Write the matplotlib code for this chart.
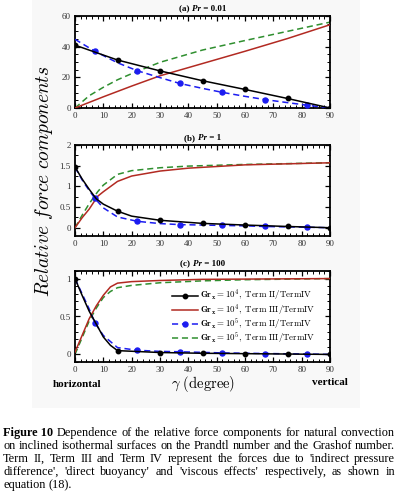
import matplotlib
matplotlib.use("Agg")
import matplotlib.pyplot as plt
from matplotlib.patches import Rectangle
from matplotlib.ticker import MultipleLocator

plt.rcParams['mathtext.fontset'] = 'cm'
plt.rcParams['font.family'] = ['Liberation Serif', 'DejaVu Serif']

# ---------------- data ----------------
xticks = [0, 10, 20, 30, 40, 50, 60, 70, 80, 90]
titles = [("(a) ", "Pr", " = 0.01"), ("(b) ", "Pr", " = 1"), ("(c) ", "Pr", " = 100")]
legend_labels = [r'$\mathbf{Gr_x = 10^4}\mathrm{,\ Term\ II/TermIV}$',
                 r'$\mathbf{Gr_x = 10^4}\mathrm{,\ Term\ III/TermIV}$',
                 r'$\mathbf{Gr_x = 10^5}\mathrm{,\ Term\ II/TermIV}$',
                 r'$\mathbf{Gr_x = 10^5}\mathrm{,\ Term\ III/TermIV}$']

# Panel (a) Pr = 0.01
a_x_t2_g4 = [0, 15, 30, 45, 60, 75, 90]
a_t2_g4 = [41.0, 31.3, 24.2, 17.8, 12.1, 6.2, 0.0]
a_x_t3_g4 = [0, 10, 20, 30, 45, 60, 75, 90]
a_t3_g4 = [0.0, 7.3, 14.3, 21.0, 29.0, 37.0, 45.3, 54.3]
a_x_t2_g5 = [0, 7, 15, 22, 30, 37, 45, 52, 60, 67, 75, 82, 90]
a_t2_g5 = [44.8, 37.0, 29.5, 24.3, 19.8, 16.0, 12.8, 10.2, 7.6, 5.5, 3.5, 1.8, 0.0]
a_x_t3_g5 = [0, 5, 10, 15, 20, 30, 45, 60, 75, 90]
a_t3_g5 = [0.0, 8.0, 13.5, 18.4, 22.4, 29.8, 37.8, 44.0, 50.0, 56.0]

# Panel (b) Pr = 1
b_x_t2_g4 = [0, 2.5, 5, 7.5, 10, 15, 20, 30, 45, 60, 75, 90]
b_t2_g4 = [1.47, 1.18, 0.93, 0.70, 0.57, 0.40, 0.28, 0.18, 0.105, 0.065, 0.03, 0.0]
b_x_t3_g4 = [0, 2.5, 5, 8, 10, 15, 20, 30, 40, 60, 90]
b_t3_g4 = [0.0, 0.24, 0.45, 0.76, 0.87, 1.12, 1.25, 1.37, 1.44, 1.52, 1.57]
b_x_t2_g5 = [0, 3, 7, 10, 15, 22, 30, 37, 45, 52, 60, 67, 75, 82, 90]
b_t2_g5 = [1.46, 1.10, 0.71, 0.48, 0.26, 0.155, 0.10, 0.075, 0.065, 0.055, 0.045, 0.03, 0.02, 0.012, 0.0]
b_x_t3_g5 = [0, 2.5, 5, 8, 10, 15, 20, 30, 40, 60, 90]
b_t3_g5 = [0.0, 0.30, 0.58, 0.87, 1.03, 1.29, 1.38, 1.45, 1.49, 1.53, 1.57]

# Panel (c) Pr = 100
c_x_t2_g4 = [0, 2.5, 5, 7.5, 10, 12.5, 15, 30, 45, 60, 75, 90]
c_t2_g4 = [1.0, 0.78, 0.57, 0.40, 0.23, 0.12, 0.05, 0.025, 0.015, 0.01, 0.005, 0.0]
c_x_t3_g4 = [0, 2.5, 5, 7.5, 10, 12.5, 15, 20, 30, 45, 90]
c_t3_g4 = [0.03, 0.25, 0.47, 0.64, 0.78, 0.89, 0.94, 0.96, 0.975, 0.99, 1.0]
c_x_t2_g5 = [0, 2.5, 5, 7, 10, 15, 22, 30, 37, 52, 67, 82, 90]
c_t2_g5 = [1.0, 0.80, 0.60, 0.42, 0.25, 0.09, 0.055, 0.04, 0.035, 0.02, 0.012, 0.005, 0.0]
c_x_t3_g5 = [0, 2.5, 5, 7.5, 10, 12.5, 15, 20, 30, 45, 60, 90]
c_t3_g5 = [0.0, 0.22, 0.44, 0.61, 0.75, 0.83, 0.88, 0.91, 0.945, 0.97, 0.985, 1.0]

black_marks = [0, 15, 30, 45, 60, 75, 90]
blue_marks = [7, 22, 37, 52, 67, 82]

caption_lines = [
    [("Figure 10", "bold"), ("Dependence", "normal"), ("of", "normal"), ("the", "normal"),
     ("relative", "normal"), ("force", "normal"), ("components", "normal"), ("for", "normal"),
     ("natural", "normal"), ("convection", "normal")],
    "on inclined isothermal surfaces on the Prandtl number and the Grashof number.",
    "Term II, Term III and Term IV represent the forces due to 'indirect pressure",
    "difference', 'direct buoyancy' and 'viscous effects' respectively, as shown in",
    "equation (18).",
]

# ---------------- figure ----------------
W, H = 398, 500
fig = plt.figure(figsize=(W / 100, H / 100), dpi=100)
fig.add_artist(Rectangle((32 / W, 1 - 408 / H), (360 - 32) / W, 408 / H,
                         transform=fig.transFigure, facecolor='#f8f8f8',
                         edgecolor='none', zorder=0))

panels = [
    (16, 108, (0, 60), 5, (a_x_t2_g4, a_t2_g4, a_x_t3_g4, a_t3_g4, a_x_t2_g5, a_t2_g5, a_x_t3_g5, a_t3_g5),
     [0, 20, 40, 60], ['0', '20', '40', '60']),
    (145, 236, (-0.2, 2), 0.25, (b_x_t2_g4, b_t2_g4, b_x_t3_g4, b_t3_g4, b_x_t2_g5, b_t2_g5, b_x_t3_g5, b_t3_g5),
     [0, 0.5, 1, 1.5, 2], ['0', '0.5', '1', '1.5', '2']),
    (271, 362, (-0.1, 1.1), 0.1, (c_x_t2_g4, c_t2_g4, c_x_t3_g4, c_t3_g4, c_x_t2_g5, c_t2_g5, c_x_t3_g5, c_t3_g5),
     [0, 0.5, 1], ['0', '0.5', '1']),
]

red = '#b22a22'
blue = '#1c1cf0'
green = '#2f8f2f'

renderer = fig.canvas.get_renderer()


def place_runs(runs, x, y, size=6.5):
    objs = []
    for t, wt, st in runs:
        o = fig.text(0, y, t, fontsize=size, weight=wt, style=st, va='baseline', ha='left')
        objs.append(o)
    widths = [o.get_window_extent(renderer).width / W for o in objs]
    x0 = x - sum(widths) / 2
    for o, w in zip(objs, widths):
        o.set_x(x0)
        x0 += w


axes = []
for i, (top, bot, ylim, ymin, d, yt, ytl) in enumerate(panels):
    ax = fig.add_axes([75 / W, 1 - bot / H, (330 - 75) / W, (bot - top) / H])
    axes.append(ax)
    x1, y1, x2, y2, x3, y3, x4, y4 = d
    ax.plot(x1, y1, '-', color='black', lw=1.1, marker='o', ms=3.2,
            markevery=[x1.index(v) for v in black_marks], label=legend_labels[0], zorder=4)
    ax.plot(x2, y2, '-', color=red, lw=1.1, label=legend_labels[1], zorder=3)
    ax.plot(x3, y3, '--', color=blue, lw=1.1, marker='o', ms=3.6, dashes=(4, 2.5),
            markevery=[x3.index(v) for v in blue_marks], label=legend_labels[2], zorder=3)
    ax.plot(x4, y4, '--', color=green, lw=1.1, dashes=(4, 2.5), label=legend_labels[3], zorder=2)
    ax.set_xlim(0, 90)
    ax.set_ylim(*ylim)
    ax.set_xticks(xticks)
    ax.xaxis.set_minor_locator(MultipleLocator(2))
    ax.yaxis.set_minor_locator(MultipleLocator(ymin))
    ax.set_yticks(yt)
    ax.set_yticklabels(ytl)
    ax.tick_params(which='both', direction='in', top=True, right=True,
                   labelsize=6.5, colors='black', labelcolor='#333333')
    ax.tick_params(which='major', length=3.5, width=0.9, pad=3)
    ax.tick_params(which='minor', length=2, width=0.7)
    for s in ax.spines.values():
        s.set_linewidth(1.3)
    pre, it, post = titles[i]
    place_runs([(pre, 'bold', 'normal'), (it, 'bold', 'italic'), (post, 'bold', 'normal')],
               (75 + 330) / 2 / W, 1 - (top - 5) / H, size=6.5)

axes[2].legend(loc='upper right', bbox_to_anchor=(0.965, 0.87), frameon=False, fontsize=6.4,
               handlelength=2.9, handletextpad=0.3, labelspacing=-0.12, borderaxespad=0.2)

fig.text(0.11, 1 - 181 / H, r'$Relative\ force\ components$', rotation=90,
         fontsize=14, ha='center', va='center')
fig.text(203 / W, 1 - 388 / H, r'$\gamma\ \mathrm{(degree)}$', fontsize=10.5,
         ha='center', va='baseline')
fig.text(53 / W, 1 - 387 / H, 'horizontal', fontsize=8, weight='bold', ha='left', va='baseline')
fig.text(348 / W, 1 - 385 / H, 'vertical', fontsize=8, weight='bold', ha='right', va='baseline')

# caption with justified lines
cap_x0, cap_x1 = 3 / W, 395 / W
cap_y0 = 1 - 436 / H
line_h = 13 / H
token_lines = []
for line in caption_lines:
    if isinstance(line, str):
        token_lines.append([(w, 'normal') for w in line.split(' ')])
    else:
        token_lines.append(line)


def natural_width(tokens, fs):
    s = ''
    objs = []
    for t, wt in tokens:
        objs.append(fig.text(0, 0, t, fontsize=fs, weight=wt))
    m1 = fig.text(0, 0, 'a a', fontsize=fs)
    m2 = fig.text(0, 0, 'aa', fontsize=fs)
    sp = m1.get_window_extent(renderer).width - m2.get_window_extent(renderer).width
    w = sum(o.get_window_extent(renderer).width for o in objs) + sp * (len(objs) - 1)
    for o in objs + [m1, m2]:
        o.remove()
    return w, sp


CAP_FS = 9.5
while CAP_FS > 7:
    if max(natural_width(tl, CAP_FS)[0] for tl in token_lines[:-1]) <= (cap_x1 - cap_x0) * W:
        break
    CAP_FS -= 0.1
space_w = natural_width(token_lines[0], CAP_FS)[1] / W

for li, tokens in enumerate(token_lines):
    y = cap_y0 - li * line_h
    objs = [fig.text(0, y, t, fontsize=CAP_FS, weight=wt, va='baseline', ha='left') for t, wt in tokens]
    widths = [o.get_window_extent(renderer).width / W for o in objs]
    if li < len(token_lines) - 1:
        gap = (cap_x1 - cap_x0 - sum(widths)) / (len(objs) - 1)
    else:
        gap = space_w
    x = cap_x0
    for o, w in zip(objs, widths):
        o.set_x(x)
        x += w + gap

fig.savefig('out.png', dpi=100)
